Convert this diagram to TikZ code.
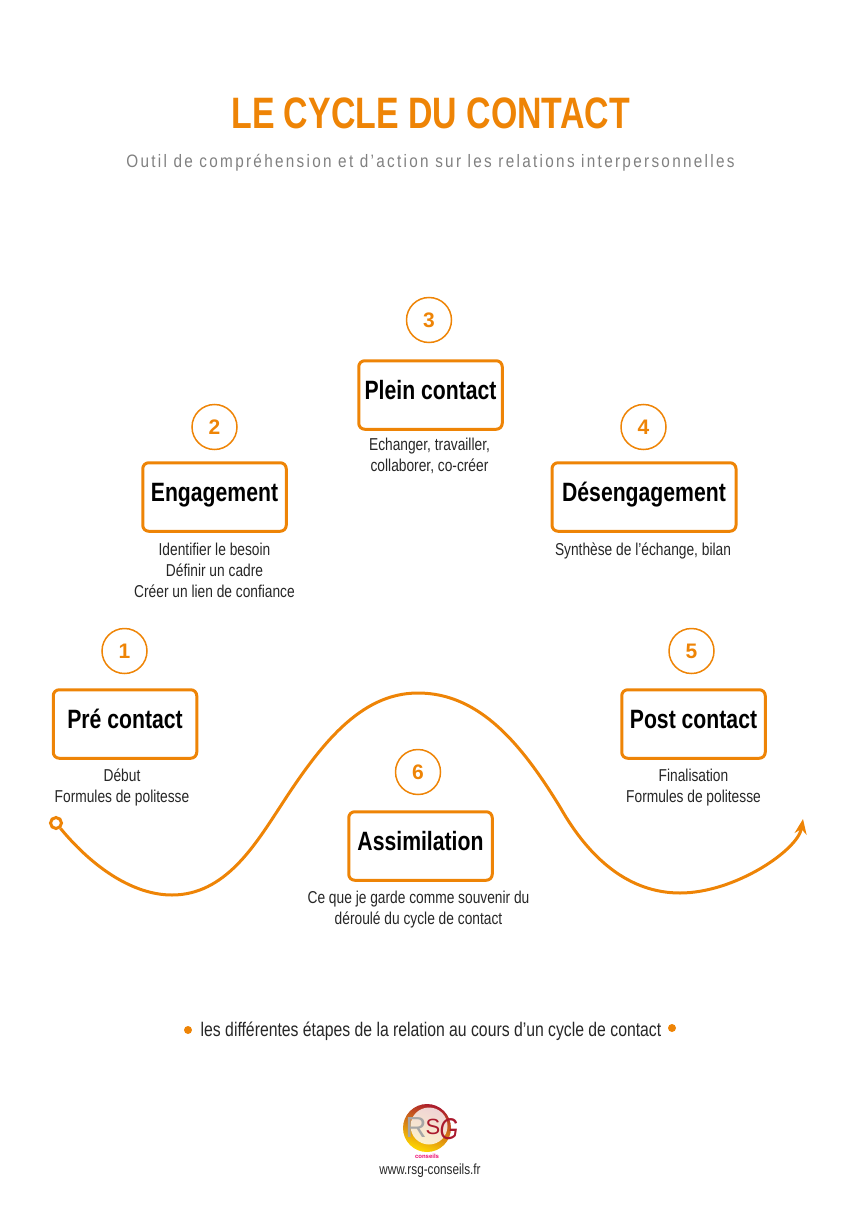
\documentclass[tikz,border=0pt]{standalone}
\usepackage{fontspec}
\setmainfont{Liberation Sans}
\newfontfamily\condfont[FakeStretch=0.8]{Liberation Sans}
\newfontfamily\titlefont[FakeStretch=0.77]{Liberation Sans}
\newfontfamily\spacedfont[FakeStretch=0.85,LetterSpace=12.8]{Liberation Sans}
\usetikzlibrary{arrows.meta,positioning,shadings}
\definecolor{rsgorange}{RGB}{238,132,6}
\definecolor{rsggray}{RGB}{128,128,128}
\definecolor{rsgred}{RGB}{170,25,45}

\begin{document}
\begin{tikzpicture}[
            x=1pt,y=-1pt,
            stagebox/.style={draw=rsgorange,line width=3pt,rounded corners=6pt,minimum width=143.5pt,minimum height=68.5pt,inner sep=0pt,
                font=\condfont\bfseries\fontsize{26.5}{30}\selectfont,text height=16.5pt,text depth=8.5pt},
            numdisc/.style={circle,draw=rsgorange,line width=1.5pt,minimum size=45pt,inner sep=0pt,text=rsgorange,font=\bfseries\fontsize{21}{24}\selectfont},
            stagenote/.style={align=center,inner sep=0pt,font=\condfont\fontsize{17.2}{21}\selectfont,text=black!85},
            flow/.style={draw=rsgorange,line width=3pt},
            footdot/.style={circle,fill=rsgorange,minimum size=8pt,inner sep=0pt}
        ]
            \useasboundingbox (0,0) rectangle (858,1214);

            \node (title) at (430.5,113) {\titlefont\bfseries\fontsize{44}{50}\selectfont\textcolor{rsgorange}{LE CYCLE DU CONTACT}};
            \node (subtitle) at (430.5,163) {\spacedfont\fontsize{18}{20}\selectfont\textcolor{rsggray}{Outil de compréhension et d’action sur les relations interpersonnelles}};

            \node[stagebox] (pre) at (125,724) {Pré contact};
            \node[stagebox] (engagement) at (214.5,497) {Engagement};
            \node[stagebox] (plein) at (430.5,395) {Plein contact};
            \node[stagebox,minimum width=184pt] (desengagement) at (644,497) {Désengagement};
            \node[stagebox] (post) at (693.5,724) {Post contact};
            \node[stagebox] (assimilation) at (420.5,846) {Assimilation};

            \node[numdisc] (num1) at (124.5,651) {1};
            \node[numdisc] (num2) at (214.5,427) {2};
            \node[numdisc] (num3) at (429,320) {3};
            \node[numdisc] (num4) at (643.5,427) {4};
            \node[numdisc] (num5) at (691.5,651) {5};
            \node[numdisc] (num6) at (418,772) {6};

            \node[stagenote,below=9pt of pre,xshift=-3pt] (prenote) {Début\\Formules de politesse};
            \node[stagenote,below=10pt of engagement] (engagementnote) {Identifier le besoin\\Définir un cadre\\Créer un lien de confiance};
            \node[stagenote,below=7pt of plein,xshift=-1pt] (pleinnote) {Echanger, travailler,\\collaborer, co-créer};
            \node[stagenote,below=10pt of desengagement,xshift=-1pt] (desengagementnote) {Synthèse de l’échange, bilan};
            \node[stagenote,below=9pt of post] (postnote) {Finalisation\\Formules de politesse};
            \node[stagenote,below=9pt of assimilation,xshift=-2pt] (assimilationnote) {Ce que je garde comme souvenir du\\déroulé du cycle de contact};

            \node[circle,draw=rsgorange,line width=3pt,fill=white,minimum size=11pt,inner sep=0pt] (startring) at (56,823) {};
            \coordinate (endtip) at (803,819);
            \draw[flow,-{Stealth[length=15pt,width=12pt]}] (startring) .. controls (95,870) and (135,895) .. (172,895)
                .. controls (225,895) and (255,845) .. (280,807)
                .. controls (320,745) and (360,693) .. (418,693)
                .. controls (480,693) and (522,745) .. (560,807)
                .. controls (590,860) and (630,893) .. (680,893)
                .. controls (735,893) and (798,850) .. (endtip);

            \node[footdot] (dotleft) at (188,1030) {};
            \node[footdot] (dotright) at (672,1028) {};
            \node[font=\condfont\fontsize{19.7}{22}\selectfont,text=black!85] (footline) at (431,1031) {les différentes étapes de la relation au cours d’un cycle de contact};

            \shade[left color=rsgred,right color=yellow!70!orange,shading angle=-20] (427,1128) circle (24);
            \fill[white,opacity=.8] (429,1126) circle (18.5);
            \node[inner sep=0pt,font=\fontsize{29}{29}\selectfont,text=gray!70] (logor) at (416,1128) {R};
            \node[inner sep=0pt,font=\fontsize{22}{22}\selectfont,text=rsgred] (logos) at (433,1127) {S};
            \node[inner sep=0pt,font=\condfont\itshape\fontsize{30}{30}\selectfont,text=rsgred] (logog) at (449,1129) {G};
            \node[inner sep=0pt,font=\bfseries\fontsize{6}{7}\selectfont,text=magenta!70!red] (logotext) at (427,1156) {conseils};
            \node[inner sep=0pt,font=\condfont\fontsize{14.7}{18}\selectfont,text=black!85] (website) at (430,1171) {www.rsg-conseils.fr};
        \end{tikzpicture}
\end{document}
